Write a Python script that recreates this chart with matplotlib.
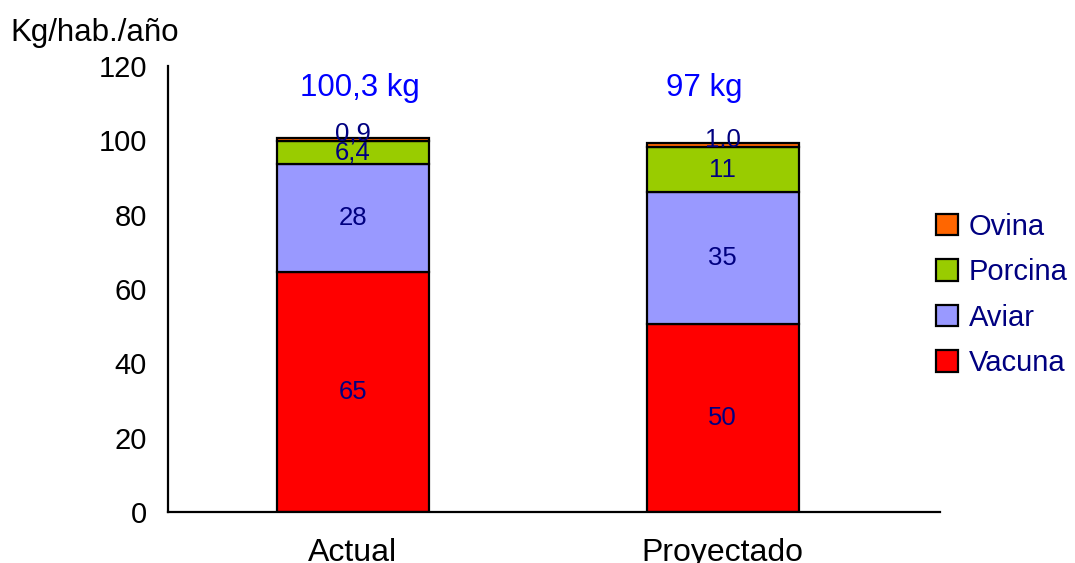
import matplotlib.pyplot as plt
import numpy as np
from matplotlib.patches import Patch

plt.rcParams['font.family'] = ['Liberation Sans', 'DejaVu Sans']

# datos
categorias = ['Actual', 'Proyectado']
especies = ['Vacuna', 'Aviar', 'Porcina', 'Ovina']
valores = {
    'Vacuna': [64.5, 50.5],
    'Aviar': [29.0, 35.5],
    'Porcina': [6.2, 12.1],
    'Ovina': [1.0, 1.1],
}
etiquetas = {
    'Vacuna': ['65', '50'],
    'Aviar': ['28', '35'],
    'Porcina': ['6,4', '11'],
    'Ovina': ['0,9', '1.0'],
}
totales = ['100,3 kg', '97 kg']
colores = {'Vacuna': '#FF0000', 'Aviar': '#9999FF', 'Porcina': '#99CC00', 'Ovina': '#FF6600'}

fig = plt.figure(figsize=(10.75, 5.63), dpi=100)
ax = fig.add_axes([0.156, 0.0906, 0.718, 0.7922])

x = np.arange(len(categorias))
ancho = 0.41
base = np.zeros(len(categorias))
for esp in especies:
    v = np.array(valores[esp])
    ax.bar(x, v, ancho, bottom=base, color=colores[esp], edgecolor='black', linewidth=1.6)
    for i in range(len(x)):
        yy = base[i] + v[i] / 2
        if esp == 'Ovina':
            yy += 1.5
        ax.text(x[i], yy, etiquetas[esp][i], ha='center', va='center',
                fontsize=18.5, color='#000080')
    base = base + v

# totales encima de las barras
ax.text(x[0] + 0.02, 114, totales[0], ha='center', va='center', fontsize=22.5, color='#0000FF')
ax.text(x[1] - 0.05, 114, totales[1], ha='center', va='center', fontsize=22.5, color='#0000FF')

ax.set_xlim(-0.5, 1.586)
ax.set_ylim(0, 120)
ax.set_yticks(np.arange(0, 121, 20))
ax.set_xticks(x)
ax.set_xticklabels(categorias)
ax.tick_params(axis='y', length=0, pad=15, labelsize=21)
ax.tick_params(axis='x', length=0, pad=19, labelsize=23)
for s in ['top', 'right']:
    ax.spines[s].set_visible(False)
ax.spines['left'].set_linewidth(1.6)
ax.spines['bottom'].set_linewidth(1.6)

fig.text(10 / 1075, 1 - 33 / 563, 'Kg/hab./año', ha='left', va='center', fontsize=22.5)

# leyenda (orden inverso)
handles = [Patch(facecolor=colores[e], edgecolor='black', linewidth=1.6) for e in especies[::-1]]
leg = ax.legend(handles, especies[::-1], loc='center left', bbox_to_anchor=(0.962, 0.487),
                frameon=False, fontsize=21, handlelength=0.75, handleheight=0.75,
                handletextpad=0.35, labelspacing=0.6)
for t in leg.get_texts():
    t.set_color('#000080')

fig.savefig('out.png', dpi=100)
